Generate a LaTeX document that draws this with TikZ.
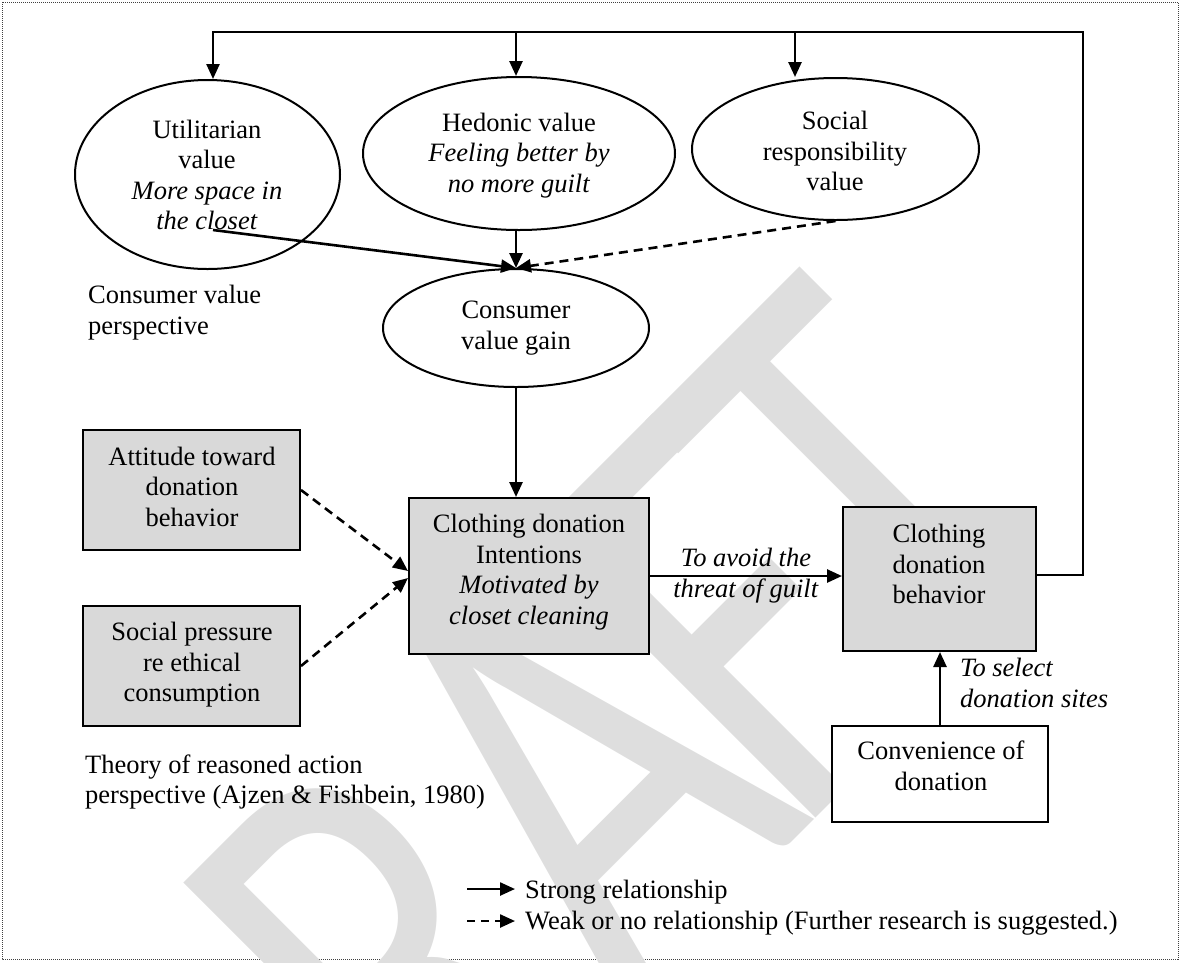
\documentclass[tikz,border=0pt]{standalone}
\usepackage{fontspec}
\usepackage{graphicx}
\setmainfont{Liberation Serif}
\newfontfamily\wmfont{Carlito}
\usetikzlibrary{arrows.meta,shapes.geometric,calc}
\newcommand{\fs}{\fontsize{26.5}{30.5}\selectfont}
\begin{document}
\begin{tikzpicture}[x=1pt,y=-1pt,
  arr/.style={line width=2.6pt,-{Triangle[length=15pt,width=13pt]}},
  darr/.style={arr, dash pattern=on 9pt off 6pt},
  oval/.style={draw, ellipse, line width=2pt, fill=white, inner sep=0pt},
  gbox/.style={draw, line width=2pt, fill=black!15, inner sep=0pt},
  wbox/.style={draw, line width=2pt, fill=white, inner sep=0pt},
  txt/.style={align=center, inner sep=0pt, font=\fs},
  ltxt/.style={align=left, inner sep=0pt, font=\fs, anchor=west},
  legtxt/.style={anchor=base west, inner sep=0pt, font=\fs},
]
\useasboundingbox (0,0) rectangle (1180,962);
\draw[black!75, line width=1pt, dash pattern=on 1pt off 1pt] (2,2) rectangle (1178,959);
% watermark
\node[font=\wmfont\fontsize{470}{470}\selectfont, text=black!13, rotate=45, anchor=base east, inner sep=0pt] (wm) at (1087,547) {\scalebox{1}[1.33]{DRA\kern-32pt F\kern-30pt T}};

% ellipses
\node[oval, minimum width=265pt, minimum height=189pt] (util) at (207.5,174.5) {};
\node[oval, minimum width=312pt, minimum height=153pt] (hedo) at (519,153.5) {};
\node[oval, minimum width=287pt, minimum height=142pt] (soc) at (835.5,149) {};
\node[oval, minimum width=266pt, minimum height=118pt] (gain) at (516,328) {};

% boxes
\node[gbox, minimum width=217pt, minimum height=120pt] (att) at (191.5,490) {};
\node[gbox, minimum width=217pt, minimum height=120pt] (sp) at (191.5,666) {};
\node[gbox, minimum width=240pt, minimum height=156pt] (cdi) at (529,576) {};
\node[gbox, minimum width=193pt, minimum height=144pt] (cdb) at (939.5,579) {};
\node[wbox, minimum width=216pt, minimum height=96pt] (conv) at (940,774) {};

% texts
\node[txt] (utilT) at (207,177.9) {\strut Utilitarian\\\strut value\\\strut\textit{More space in}\\\strut\textit{the closet}};
\node[txt] (hedoT) at (519,155.4) {\strut Hedonic value\\\strut\textit{Feeling better by}\\\strut\textit{no more guilt}};
\node[txt] (socT) at (835,153.9) {\strut Social\\\strut responsibility\\\strut value};
\node[txt] (gainT) at (516,327.7) {\strut Consumer\\\strut value gain};
\node[txt] (attT) at (192,489.4) {\strut Attitude toward\\\strut donation\\\strut behavior};
\node[txt] (spT) at (192,664.9) {\strut Social pressure\\\strut re ethical\\\strut consumption};
\node[txt] (cdiT) at (529,572.4) {\strut Clothing donation\\\strut Intentions\\\strut\textit{Motivated by}\\\strut\textit{closet cleaning}};
\node[txt] (cdbT) at (939,566.9) {\strut Clothing\\\strut donation\\\strut behavior};
\node[txt] (convT) at (941,768.9) {\strut Convenience of\\\strut donation};
\node[ltxt] (cvp) at (88,312.9) {\strut Consumer value\\\strut perspective};
\node[ltxt] (tra) at (85,782.4) {\strut Theory of reasoned action\\\strut perspective (Ajzen \& Fishbein, 1980)};
\node[txt] (avoid) at (746,575.9) {\strut\textit{To avoid the}\\\strut\textit{threat of guilt}};
\node[ltxt] (select) at (960,685.9) {\strut\textit{To select}\\\strut\textit{donation sites}};

% connectors
\coordinate (tr) at (1083,32);
\coordinate (tl) at (213,32);
\coordinate (th) at (516,32);
\coordinate (ts) at (795,32);
\coordinate (us) at (213,230);
\draw[arr, line width=2.4pt] ($(cdb.east)+(0,-4)$) -| (tr) -- (tl) -- (tl |- util.north);
\draw[arr] (th) -- (th |- hedo.north);
\draw[arr] (ts) -- (ts |- soc.north);
\draw[arr] (us) -- (gain.north);
\draw[arr] (hedo.south -| gain.north) -- (gain.north);
\draw[darr] (soc.south) -- (gain.north);
\draw[arr] (gain.south) -- (gain.south |- cdi.north);
\draw[darr] (att.east) -- ($(cdi.west)+(0,-5)$);
\draw[darr] (sp.east) -- ($(cdi.west)+(0,2)$);
\draw[arr] (cdi.east) -- (cdi.east -| cdb.west);
\draw[arr] (conv.north) -- (conv.north |- cdb.south);

% legend
\coordinate (l1a) at (467,889);
\coordinate (l1b) at (515,889);
\coordinate (l2a) at (467,921);
\coordinate (l2b) at (515,921);
\draw[arr, line width=2.4pt] (l1a) -- (l1b);
\draw[darr, line width=2.4pt, dash pattern=on 8pt off 6pt] (l2a) -- (l2b);
\node[legtxt] (leg1) at (525,898) {Strong relationship};
\node[legtxt] (leg2) at (525,929) {Weak or no relationship (Further research is suggested.)};
\end{tikzpicture}
\end{document}
